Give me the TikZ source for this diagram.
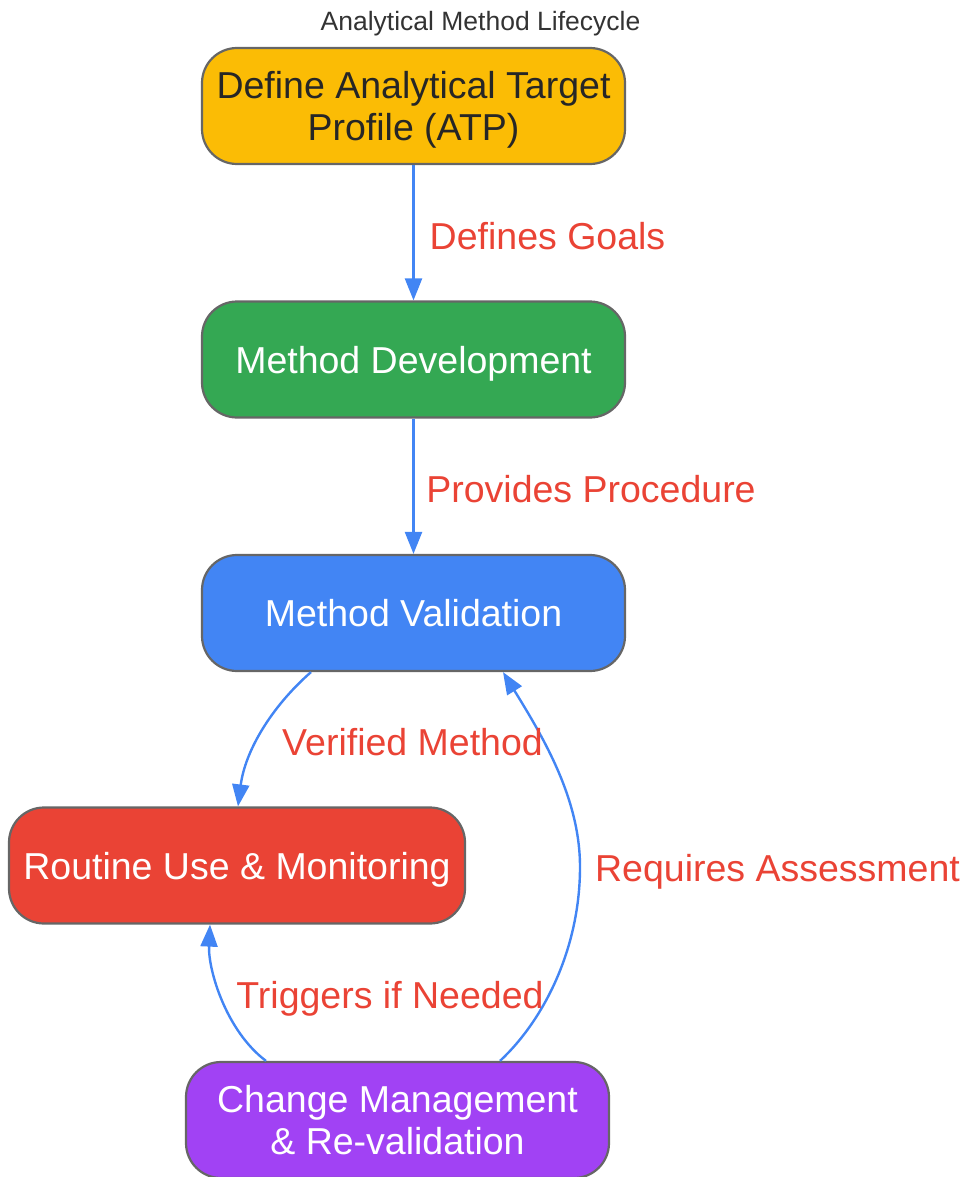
\documentclass[tikz,border=0pt]{standalone}
\usepackage{fontspec}
\setmainfont{Liberation Sans}
\usetikzlibrary{arrows.meta}

\definecolor{atpyellow}{HTML}{FBBC05}
\definecolor{devgreen}{HTML}{34A853}
\definecolor{valblue}{HTML}{4285F4}
\definecolor{useredd}{HTML}{EA4335}
\definecolor{chgpurple}{HTML}{A142F4}
\definecolor{edgegrey}{HTML}{666666}

\tikzset{
  stage/.style={draw=edgegrey, line width=2.2pt, rounded corners=35pt,
    minimum width=423pt, minimum height=116pt, align=center, text depth=0pt,
    font=\fontsize{37.5}{42}\selectfont, text=white},
  flow/.style={draw=valblue, line width=2.4pt,
    -{Triangle[length=22pt,width=17pt]}},
  flowlabel/.style={anchor=base, text=useredd, font=\fontsize{37.5}{42}\selectfont}
}

\begin{document}
\begin{tikzpicture}[x=1pt,y=-1pt]
        \useasboundingbox (0,0) rectangle (961,1177);

        \node[anchor=base, text=black!80, font=\fontsize{26.5}{30}\selectfont] (title) at (480.5,31) {Analytical Method Lifecycle};

        \node[stage, fill=atpyellow, text=black!85] (atp) at (413.5,106) {Define Analytical Target\\Profile (ATP)};
        \node[stage, fill=devgreen] (dev) at (413.5,359.5) {Method Development};
        \node[stage, fill=valblue] (valid) at (413.5,613) {Method Validation};
        \node[stage, fill=useredd, minimum width=456pt] (routine) at (237,865.5) {Routine Use \& Monitoring};
        \node[stage, fill=chgpurple] (change) at (397.5,1120) {Change Management\\\& Re-validation};

        \draw[flow] (atp.south) -- (dev.north);
        \draw[flow] (dev.south) -- (valid.north);
        \draw[flow] ([xshift=-102.5pt]valid.south) .. controls +(-40,35) and +(7,-55) .. ([xshift=1pt]routine.north);
        \draw[flow] ([xshift=102.5pt]change.north) .. controls +(45,-42) and +(0,80) .. (580,867)
                .. controls +(0,-67) and +(42,68) .. ([xshift=89.5pt]valid.south);
        \draw[flow] ([xshift=-131.5pt]change.north) .. controls +(-40,-30) and +(-2,45) .. ([xshift=-27pt]routine.south);

        \node[flowlabel] (goals) at (547.5,249) {Defines Goals};
        \node[flowlabel] (procedure) at (591,502) {Provides Procedure};
        \node[flowlabel] (verified) at (412.5,755) {Verified Method};
        \node[flowlabel] (assess) at (777.5,881) {Requires Assessment};
        \node[flowlabel] (triggers) at (390,1008) {Triggers if Needed};

        \end{tikzpicture}
\end{document}
